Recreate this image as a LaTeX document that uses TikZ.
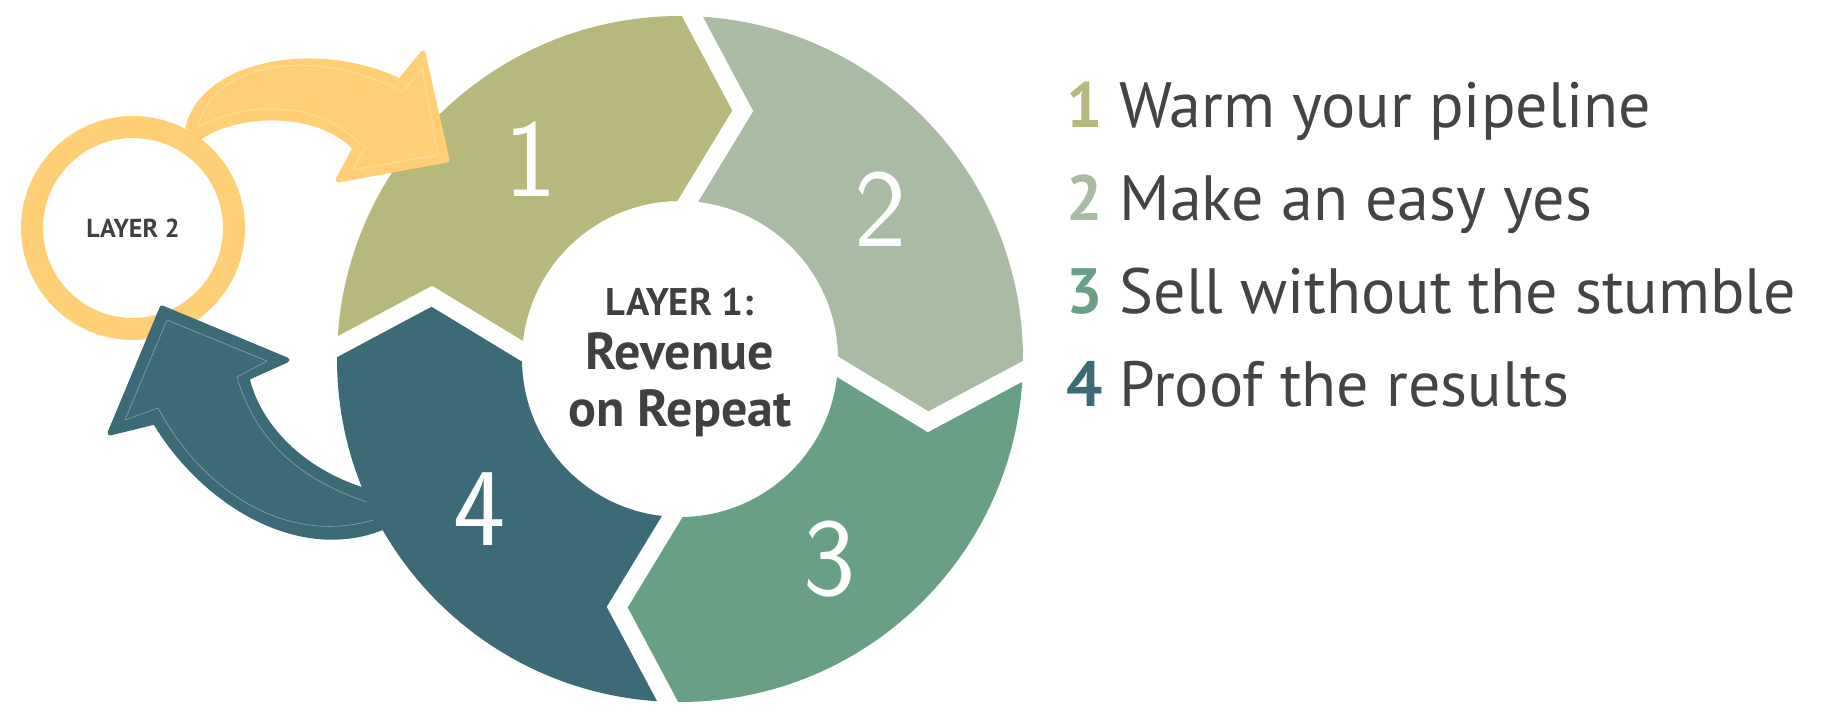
\documentclass[tikz,border=0pt]{standalone}
\usepackage{fontspec}
\setmainfont{PT Sans}
\definecolor{segone}{HTML}{B7B87D}
\definecolor{segtwo}{HTML}{A9BBA3}
\definecolor{segthree}{HTML}{689F85}
\definecolor{segfour}{HTML}{3D6A77}
\definecolor{gold}{HTML}{FFCF76}
\definecolor{ink}{HTML}{434542}
\definecolor{inkdark}{HTML}{404040}
\begin{document}
\begin{tikzpicture}[x=1pt, y=1pt, line join=round,
    segnum/.style={text=white, inner sep=0pt, font=\sffamily\fontsize{111}{111}\selectfont},
    gapline/.style={draw=white, line width=18pt, line join=miter},
    arrowbody/.style={line width=5pt, line join=round},
    seam/.style={draw=white, opacity=.35, line width=.7pt},
    hubtext/.style={anchor=base, inner sep=0pt, text=inkdark},
    legendline/.style={anchor=base west, inner sep=0pt, text=ink, font=\fontsize{64}{64}\selectfont}]
  \useasboundingbox (0,0) rectangle (1822,725);

  % --- layer 2 ring ---
  \node[circle, draw=gold, line width=22pt, minimum size=202pt, inner sep=0pt,
        text=inkdark, font=\bfseries\fontsize{26}{26}\selectfont] (layer2) at (133,497) {LAYER 2};

  % --- teal return arrow (sits under the wheel) ---
  \coordinate (T-in) at (363,235);
  \coordinate (T-notchr) at (247,347);
  \coordinate (T-barbr) at (287,365);
  \coordinate (T-tip) at (162,417);
  \coordinate (T-barbl) at (110,292);
  \coordinate (T-notchl) at (155,303);
  \coordinate (T-out) at (381,197);
  \filldraw[arrowbody, fill=segfour, draw=segfour]
    (410,245) -- (T-in) .. controls (300,255) and (258,300) .. (T-notchr)
    -- (T-barbr) -- (T-tip) -- (T-barbl) -- (T-notchl)
    .. controls (205,220) and (300,165) .. (T-out) -- (410,197) -- cycle;
  % faint inner seam
  \draw[seam] (367,223) .. controls (300,245) and (255,285) .. (237,348)
    -- (267,364) -- (167,405) -- (125,305) -- (158,317)
    .. controls (205,230) and (290,180) .. (373,205);

  % --- wheel: four chevron segments round the hub ---
  \coordinate (hub) at (680,366);
  \begin{scope}[shift={(hub)}]
    \foreach \a/\col in {178.8/segone, 88.8/segtwo, -1.2/segthree, -91.2/segfour} {
      \pgfmathsetmacro\b{\a-90}
      \fill[\col] (\a:343) arc[start angle=\a, end angle=\b, radius=343]
        -- (\b-13:256) -- (\b:158) arc[start angle=\b, end angle=\a, radius=158]
        -- (\a-13:256) -- cycle;
    }
    \foreach \a in {178.8, 88.8, -1.2, -91.2}
      \draw[gapline] (\a:352) -- (\a-13:256) -- (\a:150);
    \foreach \a/\n in {178.8/1, 88.8/2, -1.2/3, -91.2/4}
      \node[segnum] (num\n) at (\a-52:250) {\n};
  \end{scope}

  % --- gold arrow from layer 2 into step 1 ---
  \coordinate (Y-tail) at (188,598);
  \coordinate (Y-notcht) at (400,644);
  \coordinate (Y-barbt) at (423,672);
  \coordinate (Y-tip) at (447,565);
  \coordinate (Y-barbb) at (338,545);
  \coordinate (Y-notchb) at (355,577);
  \coordinate (Y-tailb) at (200,588);
  \filldraw[arrowbody, fill=gold, draw=gold]
    (Y-tail) .. controls (203,660) and (312,685) .. (Y-notcht)
    -- (Y-barbt) -- (Y-tip) -- (Y-barbb) -- (Y-notchb)
    .. controls (320,615) and (240,615) .. (Y-tailb) -- cycle;
  % faint inner seam
  \draw[seam] (198,598) .. controls (212,663) and (315,680) .. (403,633)
    -- (422,657) -- (438,570) -- (352,555) -- (365,577)
    .. controls (320,625) and (250,625) .. (198,598) -- cycle;

  % --- hub title ---
  \node[hubtext, font=\bfseries\fontsize{38.5}{38.5}\selectfont] (layer1) at (680,409) {LAYER 1:};
  \node[hubtext, font=\bfseries\fontsize{52}{52}\selectfont] (revenue) at (680,355) {Revenue};
  \node[hubtext, font=\bfseries\fontsize{52}{52}\selectfont] (repeat) at (680,298) {on Repeat};

  % --- legend ---
  \node[legendline] (item1) at (1066,597) {\textcolor{segone}{\bfseries 1} Warm your pipeline};
  \node[legendline] (item2) at (1066,504) {\textcolor{segtwo}{\bfseries 2} Make an easy yes};
  \node[legendline] (item3) at (1066,411) {\textcolor{segthree}{\bfseries 3} Sell without the stumble};
  \node[legendline] (item4) at (1066,318) {\textcolor{segfour}{\bfseries 4} Proof the results};
\end{tikzpicture}
\end{document}
